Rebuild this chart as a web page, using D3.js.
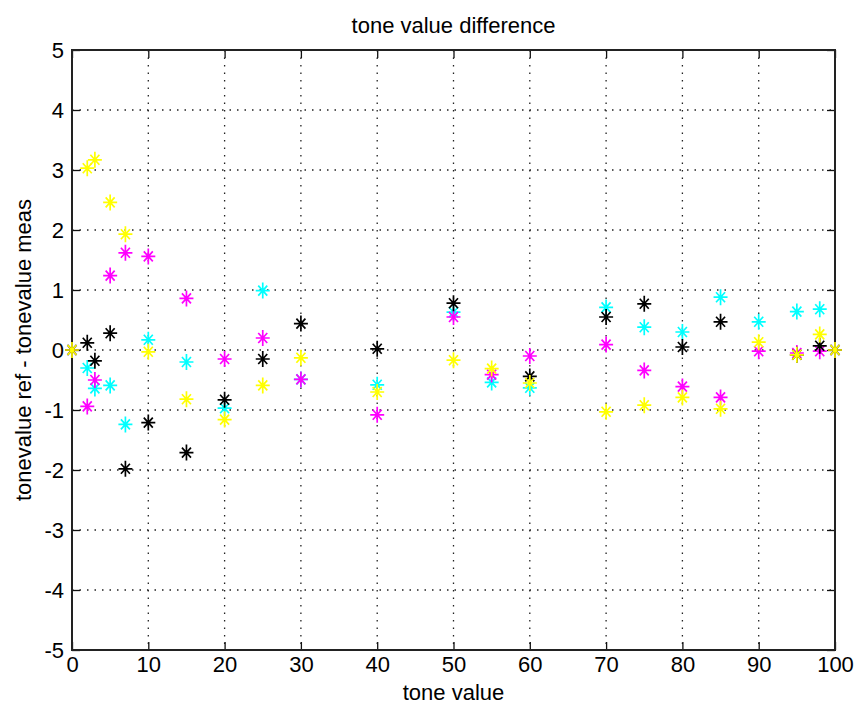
<!DOCTYPE html>
<html>
<head>
<meta charset="utf-8">
<script src="https://cdn.jsdelivr.net/npm/d3@7"></script>
<style>
  body { margin: 0; background: #fff; }
  text { font-family: "Liberation Sans", Arial, sans-serif; fill: #000; }
</style>
</head>
<body>
<div id="chart"></div>
<script>
// tone values measured
const toneValues = [0, 2, 3, 5, 7, 10, 15, 20, 25, 30, 40, 50, 55, 60, 70, 75, 80, 85, 90, 95, 98, 100];

// tonevalue ref - tonevalue meas, per ink
const cyanDiff    = [0, -0.30, -0.64, -0.59, -1.24, 0.17, -0.20, -0.97, 0.99, -0.49, -0.58, 0.63, -0.54, -0.63, 0.71, 0.38, 0.30, 0.88, 0.47, 0.64, 0.68, 0];
const magentaDiff = [0, -0.94, -0.50, 1.24, 1.62, 1.56, 0.86, -0.15, 0.20, -0.49, -1.08, 0.55, -0.41, -0.10, 0.09, -0.34, -0.61, -0.79, -0.02, -0.05, -0.02, 0];
const blackDiff   = [0, 0.12, -0.18, 0.28, -1.98, -1.21, -1.71, -0.83, -0.15, 0.44, 0.02, 0.78, null, -0.44, 0.55, 0.77, 0.05, 0.47, null, -0.08, 0.07, 0];
const yellowDiff  = [0, 3.03, 3.17, 2.46, 1.93, -0.03, -0.82, -1.16, -0.59, -0.13, -0.70, -0.17, -0.31, -0.55, -1.03, -0.92, -0.79, -0.98, 0.13, -0.08, 0.26, 0];

const seriesNames = ["cyan", "magenta", "black", "yellow"];
const seriesColors = ["#00ffff", "#ff00ff", "#000000", "#ffff00"];
const seriesValues = [cyanDiff, magentaDiff, blackDiff, yellowDiff];

const xTicks = d3.range(0, 101, 10);
const yTicks = d3.range(-5, 6, 1);

const width = 856, height = 713;
const margin = {top: 50, right: 21, bottom: 63, left: 72};
const w = width - margin.left - margin.right;
const h = height - margin.top - margin.bottom;
const fontSize = "22px";

const svg = d3.select("#chart").append("svg")
    .attr("width", width)
    .attr("height", height);

const g = svg.append("g")
    .attr("transform", `translate(${margin.left},${margin.top})`);

const x = d3.scaleLinear().domain([0, 100]).range([0, w]);
const y = d3.scaleLinear().domain([-5, 5]).range([h, 0]);

// dotted grid
g.append("g").selectAll("line.vg")
    .data(xTicks.slice(1, -1))
    .join("line")
    .attr("x1", d => x(d)).attr("x2", d => x(d))
    .attr("y1", 0).attr("y2", h)
    .attr("stroke", "#222").attr("stroke-width", 1.3)
    .attr("stroke-dasharray", "1.5,6");

g.append("g").selectAll("line.hg")
    .data(yTicks.slice(1, -1))
    .join("line")
    .attr("y1", d => y(d)).attr("y2", d => y(d))
    .attr("x1", 0).attr("x2", w)
    .attr("stroke", "#222").attr("stroke-width", 1.3)
    .attr("stroke-dasharray", "1.5,6");

// axes with inward ticks, plain hyphen minus like the original
const tickLen = 8;
const fmt = d => String(d);
const xAxis = g.append("g")
    .attr("transform", `translate(0,${h})`)
    .call(d3.axisBottom(x).tickValues(xTicks).tickSizeInner(-tickLen).tickSizeOuter(0).tickPadding(6).tickFormat(fmt));
const xAxisTop = g.append("g")
    .call(d3.axisTop(x).tickValues(xTicks).tickSizeInner(-tickLen).tickSizeOuter(0).tickFormat(""));
const yAxis = g.append("g")
    .call(d3.axisLeft(y).tickValues(yTicks).tickSizeInner(-tickLen).tickSizeOuter(0).tickPadding(8).tickFormat(fmt));
const yAxisRight = g.append("g")
    .attr("transform", `translate(${w},0)`)
    .call(d3.axisRight(y).tickValues(yTicks).tickSizeInner(-tickLen).tickSizeOuter(0).tickFormat(""));

[xAxis, xAxisTop, yAxis, yAxisRight].forEach(a => {
  a.select(".domain").remove();
  a.selectAll(".tick line").attr("stroke", "#111").attr("stroke-width", 1.3);
});

xAxis.selectAll("text")
    .style("font-size", fontSize)
    .attr("dy", "0.71em");
yAxis.selectAll("text")
    .style("font-size", fontSize);

// box
g.append("rect")
    .attr("width", w).attr("height", h)
    .attr("fill", "none")
    .attr("stroke", "#222").attr("stroke-width", 2);

// asterisk markers
const star = "M-7,0H7M0,-8V8M-4.5,-5L4.5,5M-4.5,5L4.5,-5";

seriesValues.forEach((vals, i) => {
  const pts = toneValues.map((t, j) => ({t: t, v: vals[j]})).filter(d => d.v != null);
  g.append("g")
      .attr("class", seriesNames[i])
      .selectAll("path")
      .data(pts)
      .join("path")
      .attr("d", star)
      .attr("transform", d => `translate(${x(d.t)},${y(d.v)})`)
      .attr("fill", "none")
      .attr("stroke", seriesColors[i])
      .attr("stroke-width", 1.7);
});

// titles
svg.append("text")
    .attr("x", margin.left + w / 2).attr("y", 33)
    .attr("text-anchor", "middle")
    .style("font-size", fontSize)
    .text("tone value difference");

svg.append("text")
    .attr("x", margin.left + w / 2).attr("y", 700)
    .attr("text-anchor", "middle")
    .style("font-size", fontSize)
    .text("tone value");

svg.append("text")
    .attr("transform", `translate(31,${margin.top + h / 2}) rotate(-90)`)
    .attr("text-anchor", "middle")
    .style("font-size", fontSize)
    .text("tonevalue ref - tonevalue meas");
</script>
</body>
</html>
